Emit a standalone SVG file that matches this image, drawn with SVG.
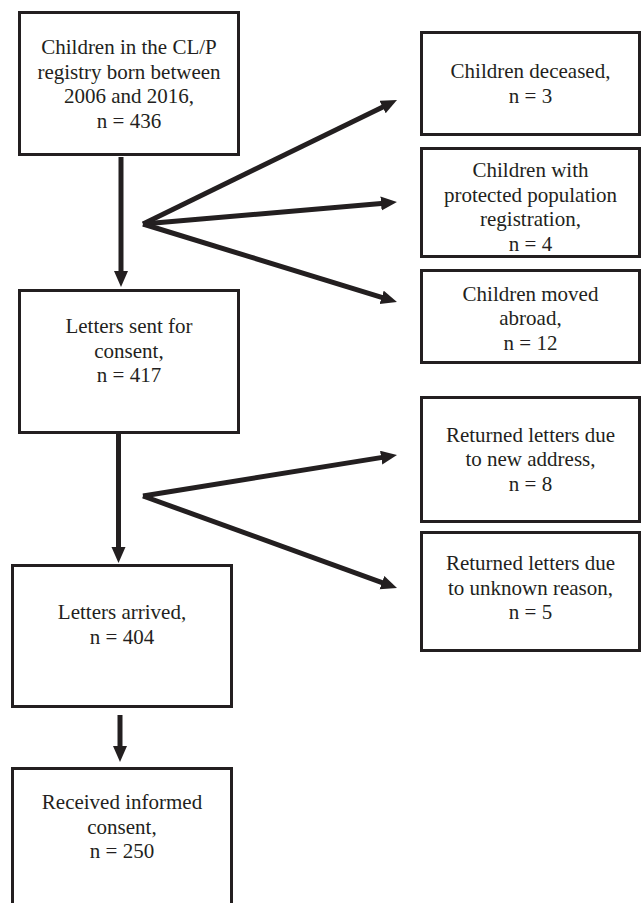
<svg xmlns="http://www.w3.org/2000/svg" width="642" height="903" viewBox="0 0 642 903">
<defs>
<style>
.box{fill:#fff;stroke:#231f20;stroke-width:3}
.t{font-family:"Liberation Serif","Times New Roman",serif;font-size:21px;fill:#231f20;text-anchor:middle}
.c{stroke:#231f20;stroke-width:5;fill:none;marker-end:url(#ah)}
</style>
<marker id="ah" markerUnits="userSpaceOnUse" markerWidth="17" markerHeight="15" refX="6" refY="7" orient="auto" viewBox="0 0 17 15">
<path d="M0,0 L16,7 L0,14 z" fill="#231f20"/>
</marker>
</defs>
<rect width="642" height="903" fill="#fff"/>
<g id="connectors">
<line class="c" x1="121" y1="157" x2="121" y2="277"/>
<line class="c" x1="143" y1="224" x2="388" y2="104.4"/>
<line class="c" x1="143" y1="224" x2="387" y2="202.9"/>
<line class="c" x1="143" y1="224" x2="387.4" y2="299.1"/>
<line class="c" x1="118.5" y1="434" x2="118.5" y2="553"/>
<line class="c" x1="143" y1="496" x2="387.1" y2="456.6"/>
<line class="c" x1="143" y1="496" x2="387.6" y2="584.6"/>
<line class="c" x1="120" y1="715" x2="120" y2="752"/>
</g>
<g id="n1">
<rect class="box" x="19.5" y="12.5" width="219" height="142"/>
<text class="t" x="129" y="54">Children in the CL/P</text>
<text class="t" x="129" y="78.5">registry born between</text>
<text class="t" x="129" y="103">2006 and 2016,</text>
<text class="t" x="129" y="127.5">n = 436</text>
</g>
<g id="n2">
<rect class="box" x="19.5" y="290.5" width="219" height="142"/>
<text class="t" x="129" y="333">Letters sent for</text>
<text class="t" x="129" y="357.5">consent,</text>
<text class="t" x="129" y="382">n = 417</text>
</g>
<g id="n3">
<rect class="box" x="12.5" y="565.5" width="219" height="141"/>
<text class="t" x="122" y="619">Letters arrived,</text>
<text class="t" x="122" y="643.5">n = 404</text>
</g>
<g id="n4">
<rect class="box" x="12.5" y="768.5" width="219" height="145"/>
<text class="t" x="122" y="809">Received informed</text>
<text class="t" x="122" y="833.5">consent,</text>
<text class="t" x="122" y="858">n = 250</text>
</g>
<g id="n5">
<rect class="box" x="421.5" y="32.5" width="218" height="102"/>
<text class="t" x="530.5" y="78">Children deceased,</text>
<text class="t" x="530.5" y="102.5">n = 3</text>
</g>
<g id="n6">
<rect class="box" x="421.5" y="148.5" width="218" height="108"/>
<text class="t" x="530.5" y="177">Children with</text>
<text class="t" x="530.5" y="201.5">protected population</text>
<text class="t" x="530.5" y="226">registration,</text>
<text class="t" x="530.5" y="250.5">n = 4</text>
</g>
<g id="n7">
<rect class="box" x="421.5" y="270.5" width="218" height="92"/>
<text class="t" x="530.5" y="300.5">Children moved</text>
<text class="t" x="530.5" y="325">abroad,</text>
<text class="t" x="530.5" y="349.5">n = 12</text>
</g>
<g id="n8">
<rect class="box" x="421.5" y="397.5" width="218" height="124"/>
<text class="t" x="530.5" y="441.5">Returned letters due</text>
<text class="t" x="530.5" y="466">to new address,</text>
<text class="t" x="530.5" y="490.5">n = 8</text>
</g>
<g id="n9">
<rect class="box" x="421.5" y="532.5" width="218" height="118"/>
<text class="t" x="530.5" y="570">Returned letters due</text>
<text class="t" x="530.5" y="594.5">to unknown reason,</text>
<text class="t" x="530.5" y="619">n = 5</text>
</g>
</svg>
